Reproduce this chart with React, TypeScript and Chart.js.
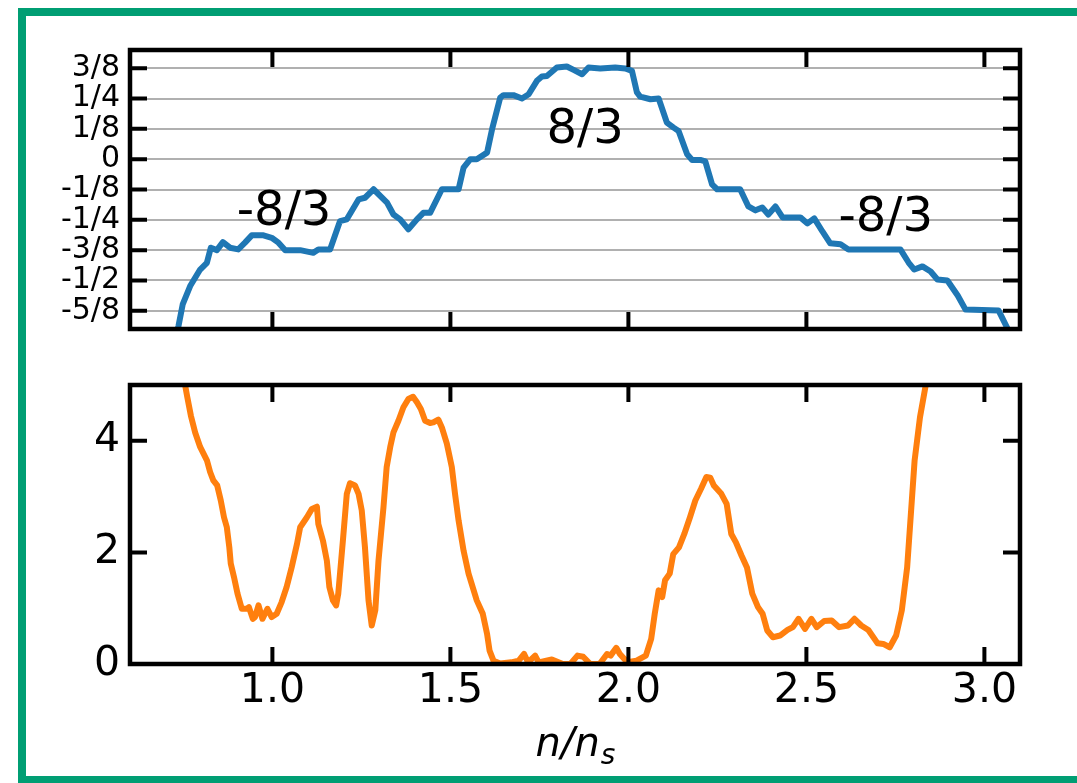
import React, { useEffect, useRef } from 'react';
import { Chart, registerables } from 'chart.js';

Chart.register(...registerables);

const FONT = '"DejaVu Sans", sans-serif';

// ---- top panel (blue) ----
const blueX = [
  0.725, 0.736, 0.748, 0.769, 0.797, 0.816, 0.827, 0.844, 0.861, 0.881,
  0.904, 0.923, 0.942, 0.975, 0.998, 1.017, 1.036, 1.078, 1.115, 1.129,
  1.162, 1.190, 1.209, 1.242, 1.260, 1.284, 1.322, 1.340, 1.359, 1.382,
  1.406, 1.424, 1.443, 1.476, 1.523, 1.537, 1.556, 1.574, 1.603, 1.617,
  1.640, 1.649, 1.677, 1.701, 1.720, 1.743, 1.757, 1.771, 1.799, 1.827,
  1.846, 1.870, 1.888, 1.921, 1.963, 1.991, 2.010, 2.024, 2.033, 2.062,
  2.085, 2.108, 2.127, 2.141, 2.165, 2.179, 2.202, 2.216, 2.235, 2.249,
  2.314, 2.337, 2.357, 2.376, 2.393, 2.413, 2.433, 2.483, 2.503, 2.522,
  2.545, 2.567, 2.596, 2.618, 2.764, 2.787, 2.803, 2.826, 2.849, 2.868,
  2.896, 2.925, 2.947, 3.040, 3.065, 3.079,
];
const blueY = [
  -0.74, -0.689, -0.599, -0.523, -0.455, -0.427, -0.365, -0.375, -0.342, -0.365,
  -0.372, -0.344, -0.314, -0.314, -0.324, -0.344, -0.375, -0.375, -0.386, -0.372,
  -0.372, -0.255, -0.248, -0.166, -0.159, -0.124, -0.179, -0.228, -0.248, -0.289,
  -0.248, -0.221, -0.221, -0.124, -0.124, -0.035, 0.0, 0.0, 0.027, 0.123,
  0.254, 0.264, 0.264, 0.250, 0.268, 0.323, 0.341, 0.343, 0.378, 0.382,
  0.368, 0.350, 0.378, 0.374, 0.378, 0.374, 0.364, 0.275, 0.258, 0.247,
  0.250, 0.151, 0.130, 0.116, 0.020, -0.003, -0.003, -0.009, -0.104, -0.124,
  -0.124, -0.195, -0.211, -0.199, -0.228, -0.195, -0.240, -0.240, -0.265, -0.244,
  -0.298, -0.347, -0.351, -0.372, -0.372, -0.426, -0.455, -0.442, -0.463, -0.496,
  -0.500, -0.562, -0.620, -0.624, -0.698, -0.74,
];

// ---- bottom panel (orange) ----
const orangeX = [
  0.750, 0.755, 0.761, 0.771, 0.783, 0.797, 0.816, 0.825, 0.834, 0.845,
  0.855, 0.864, 0.872, 0.879, 0.883, 0.892, 0.902, 0.914, 0.928, 0.934,
  0.945, 0.951, 0.961, 0.972, 0.986, 0.998, 1.012, 1.026, 1.040, 1.054,
  1.069, 1.078, 1.097, 1.111, 1.125, 1.129, 1.142, 1.153, 1.160, 1.170,
  1.179, 1.185, 1.198, 1.209, 1.218, 1.232, 1.242, 1.251, 1.260, 1.270,
  1.279, 1.289, 1.298, 1.312, 1.321, 1.331, 1.340, 1.354, 1.368, 1.382,
  1.395, 1.406, 1.417, 1.429, 1.443, 1.452, 1.466, 1.476, 1.490, 1.504,
  1.513, 1.523, 1.537, 1.551, 1.574, 1.591, 1.603, 1.610, 1.621, 1.640,
  1.671, 1.692, 1.707, 1.718, 1.738, 1.748, 1.785, 1.816, 1.837, 1.857,
  1.873, 1.893, 1.919, 1.940, 1.950, 1.966, 1.976, 1.997, 2.023, 2.049,
  2.064, 2.074, 2.085, 2.095, 2.103, 2.116, 2.126, 2.142, 2.157, 2.173,
  2.188, 2.204, 2.219, 2.230, 2.240, 2.261, 2.276, 2.289, 2.302, 2.318,
  2.333, 2.348, 2.364, 2.377, 2.390, 2.406, 2.426, 2.447, 2.462, 2.478,
  2.496, 2.514, 2.529, 2.550, 2.571, 2.592, 2.617, 2.635, 2.654, 2.674,
  2.700, 2.716, 2.734, 2.752, 2.768, 2.783, 2.804, 2.819, 2.835, 2.845,
];
const orangeY = [
  5.2, 4.99, 4.78, 4.45, 4.15, 3.89, 3.65, 3.44, 3.29, 3.20,
  2.93, 2.63, 2.45, 2.09, 1.80, 1.56, 1.26, 0.99, 0.99, 1.02,
  0.81, 0.84, 1.05, 0.81, 0.99, 0.84, 0.90, 1.11, 1.38, 1.73,
  2.15, 2.45, 2.63, 2.78, 2.82, 2.51, 2.21, 1.85, 1.38, 1.14,
  1.05, 1.26, 2.21, 3.05, 3.24, 3.20, 3.05, 2.75, 2.09, 1.14,
  0.69, 0.96, 1.85, 2.81, 3.53, 3.89, 4.15, 4.36, 4.60, 4.75,
  4.79, 4.69, 4.57, 4.36, 4.32, 4.33, 4.38, 4.24, 3.95, 3.53,
  3.05, 2.57, 2.03, 1.62, 1.14, 0.90, 0.54, 0.24, 0.06, 0.01,
  0.03, 0.06, 0.18, 0.03, 0.15, 0.03, 0.08, 0.0, 0.0, 0.15,
  0.13, 0.0, 0.0, 0.18, 0.15, 0.29, 0.18, 0.03, 0.06, 0.15,
  0.45, 0.90, 1.32, 1.20, 1.50, 1.62, 1.97, 2.09, 2.33, 2.63,
  2.93, 3.14, 3.35, 3.34, 3.20, 3.05, 2.87, 2.33, 2.18, 1.94,
  1.73, 1.26, 1.02, 0.90, 0.60, 0.48, 0.51, 0.61, 0.66, 0.81,
  0.63, 0.81, 0.66, 0.77, 0.78, 0.66, 0.69, 0.81, 0.69, 0.61,
  0.37, 0.36, 0.30, 0.51, 0.96, 1.73, 3.65, 4.42, 4.99, 5.3,
];

// ---- ticks / labels ----
const xTickValues = [1.0, 1.5, 2.0, 2.5, 3.0];
const xTickLabels = ['1.0', '1.5', '2.0', '2.5', '3.0'];
const topTickValues = [-0.625, -0.5, -0.375, -0.25, -0.125, 0, 0.125, 0.25, 0.375];
const topTickLabels = ['-5/8', '-1/2', '-3/8', '-1/4', '-1/8', '0', '1/8', '1/4', '3/8'];
const bottomTickValues = [0, 2, 4];
const bottomTickLabels = ['0', '2', '4'];

const annotationTexts = ['-8/3', '8/3', '-8/3'];
const annotationX = [0.9, 1.77, 2.59];
const annotationY = [-0.273, 0.065, -0.298];

const axisTitleMain = 'n/n';
const axisTitleSub = 's';

const framePlugin = {
  id: 'frameTicks',
  afterDatasetsDraw(chart: any) {
    const { ctx, chartArea: a, scales } = chart;
    const xs = scales.x;
    const ys = scales.y;
    const L = 17;
    ctx.save();
    ctx.strokeStyle = '#000';
    ctx.lineWidth = 4;
    ctx.lineCap = 'butt';
    ctx.beginPath();
    xs.ticks.forEach((t: any) => {
      const px = xs.getPixelForValue(t.value);
      ctx.moveTo(px, a.bottom);
      ctx.lineTo(px, a.bottom - L);
      ctx.moveTo(px, a.top);
      ctx.lineTo(px, a.top + L);
    });
    ys.ticks.forEach((t: any) => {
      const py = ys.getPixelForValue(t.value);
      ctx.moveTo(a.left, py);
      ctx.lineTo(a.left + L, py);
      ctx.moveTo(a.right, py);
      ctx.lineTo(a.right - L, py);
    });
    ctx.stroke();
    ctx.lineWidth = 4.5;
    ctx.lineJoin = 'miter';
    ctx.strokeRect(a.left, a.top, a.right - a.left, a.bottom - a.top);
    ctx.restore();
  },
};

const annotationPlugin = {
  id: 'fracAnnotations',
  afterDatasetsDraw(chart: any) {
    const { ctx, scales } = chart;
    ctx.save();
    ctx.fillStyle = '#000';
    ctx.font = '48px "DejaVu Sans"';
    ctx.textAlign = 'left';
    ctx.textBaseline = 'alphabetic';
    annotationTexts.forEach((t, i) => {
      ctx.fillText(t, scales.x.getPixelForValue(annotationX[i]), scales.y.getPixelForValue(annotationY[i]));
    });
    ctx.restore();
  },
};

const axisTitlePlugin = {
  id: 'axisTitle',
  afterDraw(chart: any) {
    const { ctx, chartArea: a } = chart;
    const cx = (a.left + a.right) / 2;
    const base = chart.height - 27;
    const mainFont = 'italic 40px "DejaVu Sans"';
    const subFont = 'italic 28px "DejaVu Sans"';
    ctx.save();
    ctx.fillStyle = '#000';
    ctx.textAlign = 'left';
    ctx.textBaseline = 'alphabetic';
    ctx.font = mainFont;
    const w1 = ctx.measureText(axisTitleMain).width;
    ctx.font = subFont;
    const w2 = ctx.measureText(axisTitleSub).width;
    const x0 = cx - (w1 + w2) / 2;
    ctx.font = mainFont;
    ctx.fillText(axisTitleMain, x0, base);
    ctx.font = subFont;
    ctx.fillText(axisTitleSub, x0 + w1 + 1, base + 8);
    ctx.restore();
  },
};

export default function App() {
  const topRef = useRef<HTMLCanvasElement>(null);
  const botRef = useRef<HTMLCanvasElement>(null);

  useEffect(() => {
    Chart.defaults.font.family = FONT;
    Chart.defaults.color = '#000';

    const common: any = {
      animation: false,
      responsive: false,
      devicePixelRatio: 1,
      events: [],
      plugins: { legend: { display: false }, tooltip: { enabled: false } },
    };

    const top = new Chart(topRef.current!, {
      type: 'line',
      data: {
        datasets: [
          {
            data: blueX.map((x, i) => ({ x, y: blueY[i] })),
            borderColor: '#1f77b4',
            borderWidth: 6,
            pointRadius: 0,
            tension: 0,
            clip: 0,
            borderJoinStyle: 'round',
            borderCapStyle: 'round',
          } as any,
        ],
      },
      options: {
        ...common,
        layout: { padding: { top: 50, right: 57, bottom: 11, left: 0 }, autoPadding: false },
        scales: {
          x: {
            type: 'linear',
            display: false,
            min: 0.6,
            max: 3.1,
            afterBuildTicks: (s: any) => {
              s.ticks = xTickValues.map((v) => ({ value: v }));
            },
            ticks: { display: false },
            grid: { display: false, drawTicks: false },
            border: { display: false },
          },
          y: {
            type: 'linear',
            min: -0.7,
            max: 0.45,
            afterBuildTicks: (s: any) => {
              s.ticks = topTickValues.map((v) => ({ value: v }));
            },
            ticks: {
              autoSkip: false,
              padding: 10,
              color: '#000',
              font: { size: 30, family: FONT, lineHeight: 1 },
              callback: (_v: any, i: number) => topTickLabels[i],
            },
            grid: { display: true, drawTicks: false, color: '#b0b0b0', lineWidth: 2 },
            border: { display: false },
            afterFit: (s: any) => {
              s.width = 130;
              s.paddingTop = 0;
              s.paddingBottom = 0;
            },
          },
        },
      },
      plugins: [annotationPlugin, framePlugin],
    } as any);

    const bottom = new Chart(botRef.current!, {
      type: 'line',
      data: {
        datasets: [
          {
            data: orangeX.map((x, i) => ({ x, y: orangeY[i] })),
            borderColor: '#ff7f0e',
            borderWidth: 6,
            pointRadius: 0,
            tension: 0,
            clip: 0,
            borderJoinStyle: 'round',
            borderCapStyle: 'round',
          } as any,
        ],
      },
      options: {
        ...common,
        layout: { padding: { top: 45, right: 57, bottom: 0, left: 0 }, autoPadding: false },
        scales: {
          x: {
            type: 'linear',
            min: 0.6,
            max: 3.1,
            afterBuildTicks: (s: any) => {
              s.ticks = xTickValues.map((v) => ({ value: v }));
            },
            ticks: {
              autoSkip: false,
              maxRotation: 0,
              padding: 3,
              color: '#000',
              font: { size: 41, family: FONT },
              callback: (_v: any, i: number) => xTickLabels[i],
            },
            grid: { display: false, drawTicks: false },
            border: { display: false },
            afterFit: (s: any) => {
              s.height = 119;
            },
          },
          y: {
            type: 'linear',
            min: 0,
            max: 5,
            afterBuildTicks: (s: any) => {
              s.ticks = bottomTickValues.map((v) => ({ value: v }));
            },
            ticks: {
              autoSkip: false,
              padding: 10,
              color: '#000',
              font: { size: 41, family: FONT },
              callback: (_v: any, i: number) => bottomTickLabels[i],
            },
            grid: { display: false, drawTicks: false },
            border: { display: false },
            afterFit: (s: any) => {
              s.width = 130;
            },
          },
        },
      },
      plugins: [framePlugin, axisTitlePlugin],
    } as any);

    return () => {
      top.destroy();
      bottom.destroy();
    };
  }, []);

  return (
    <div
      style={{
        position: 'fixed',
        left: 0,
        top: 0,
        width: 1077,
        height: 783,
        overflow: 'hidden',
        background: '#fff',
      }}
    >
      <canvas
        ref={topRef}
        width={1077}
        height={340}
        style={{ position: 'absolute', left: 0, top: 0, width: 1077, height: 340 }}
      />
      <canvas
        ref={botRef}
        width={1077}
        height={443}
        style={{ position: 'absolute', left: 0, top: 340, width: 1077, height: 443 }}
      />
      <div
        style={{
          position: 'absolute',
          left: 18,
          top: 8,
          width: 1120,
          height: 776,
          border: '8px solid #009E73',
          boxSizing: 'border-box',
          pointerEvents: 'none',
        }}
      />
    </div>
  );
}
